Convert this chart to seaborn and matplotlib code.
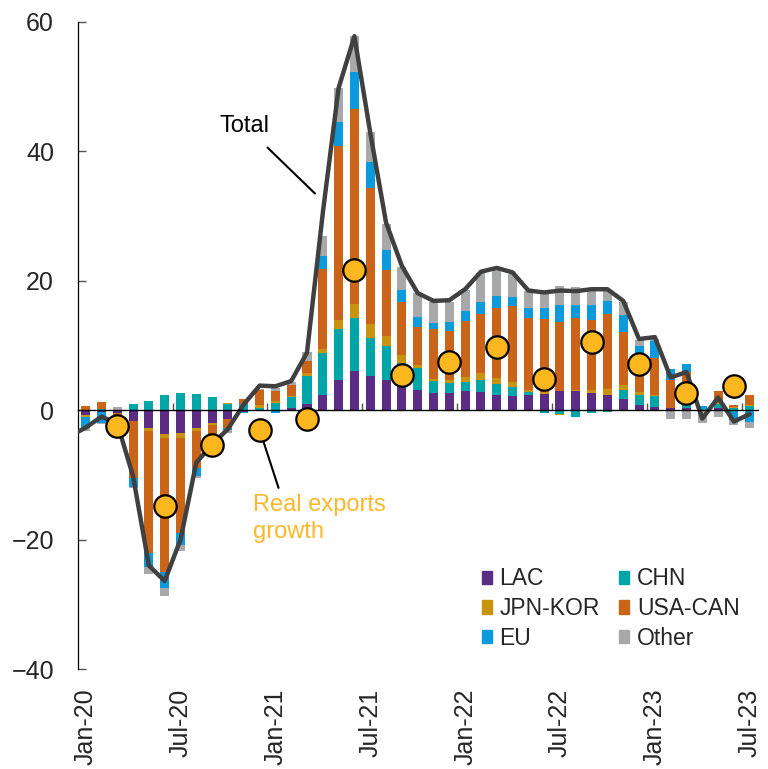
import numpy as np
import pandas as pd
import matplotlib
matplotlib.use("Agg")
import matplotlib.pyplot as plt
from matplotlib.patches import Patch
import seaborn as sns

sns.set_theme(style="white")
plt.rcParams['font.family'] = ['Liberation Sans', 'DejaVu Sans']

months = pd.date_range("2020-01-01", "2023-07-01", freq="MS")
month_labels = [m.strftime("%b-%y") for m in months]

# contributions by destination (pp)
lac = [-0.8, -0.3, -0.5, -1.6, -2.8, -3.7, -3.5, -2.7, -2.0, -1.3, -0.35, 0.0,
       0.0, 0.35, 0.9, 2.4, 4.6, 6.0, 5.3, 4.7, 4.0, 3.2, 2.7, 2.7,
       3.0, 2.8, 2.4, 2.2, 2.4, 2.5, 2.9, 2.9, 2.7, 2.3, 1.7, 0.8,
       0.5, 0.3, 0.4, -0.1, 0.3, 0.1, 0.1]
chn = [0.0, 0.2, 0.0, 0.9, 1.45, 2.3, 2.7, 2.5, 2.0, 0.9, 0.9, 0.4,
       1.1, 1.7, 4.4, 6.4, 7.9, 8.2, 5.8, 5.2, 3.3, 3.35, 1.8, 1.5,
       1.3, 1.9, 1.65, 1.4, 0.35, -0.5, -0.6, -1.1, -0.5, -0.2, 1.45, 1.6,
       1.7, 0.0, 0.7, 0.2, 0.7, 0.2, 0.6]
jpn_kor = [-0.2, 0.0, 0.0, 0.1, -0.4, -0.6, -0.8, -0.5, -0.3, 0.15, 0.0, 0.35,
           0.35, 0.2, 0.4, 0.6, 1.5, 2.2, 2.2, 1.5, 1.3, 0.4, 0.35, 0.4,
           0.9, 1.0, 1.0, 0.7, 0.35, 0.35, -0.15, 0.2, 0.5, 1.0, 0.7, 0.4,
           0.1, 0.0, 0.1, 0.0, 0.1, 0.15, 0.05]
usa_can = [0.6, 1.0, -0.8, -8.8, -18.9, -20.7, -14.6, -5.8, -3.8, -1.4, 0.8, 2.3,
           1.45, 1.6, 1.9, 12.4, 26.8, 30.2, 21.1, 10.3, 8.2, 5.9, 7.7, 7.7,
           8.6, 9.2, 10.8, 11.8, 11.2, 11.3, 10.7, 11.2, 10.8, 11.5, 8.2, 5.6,
           5.8, 4.4, 4.7, 0.0, 1.8, 0.4, 1.55]
eu = [-1.8, -1.6, -0.5, -1.4, -2.2, -2.4, -1.9, -1.1, -0.6, -0.35, -0.15, 0.0,
      -0.4, 0.0, 0.0, 2.1, 3.8, 5.6, 4.0, 3.1, 1.8, 1.5, 1.0, 1.4,
      1.6, 1.8, 1.8, 1.4, 1.45, 1.6, 2.6, 1.9, 2.2, 2.1, 2.6, 1.5,
      2.6, 1.6, 1.3, 0.4, 0.0, -1.55, -1.8]
other = [-0.4, -0.2, 0.5, -0.2, -1.0, -1.3, -0.9, -0.3, -0.3, -0.4, 0.0, 0.2,
         0.5, 0.45, 1.4, 3.1, 5.2, 5.7, 4.6, 4.0, 3.6, 3.8, 3.2, 3.1,
         3.2, 4.5, 4.1, 3.6, 2.7, 2.8, 3.0, 2.9, 2.7, 1.5, 2.0, 1.0,
         0.3, -1.4, -1.3, -1.8, -1.0, -0.8, -1.0]

# total line starts one month earlier (Dec-19), clipped at the axis
total_idx = list(range(-1, 43))
total = [-4.0, -2.7, -1.0, -2.0, -10.2, -24.0, -26.4, -20.0, -8.1, -5.3, -2.9, 0.9, 3.8,
         3.7, 4.5, 8.9, 30.5, 49.8, 57.8, 42.9, 29.0, 22.3, 18.1, 16.9, 17.0,
         18.7, 21.4, 22.0, 21.3, 18.5, 18.2, 18.5, 18.4, 18.7, 18.7, 16.9, 11.0,
         11.3, 5.05, 5.9, -1.3, 1.96, -1.75, -0.6]

# real exports growth, end of each quarter
quarter_idx = [2, 5, 8, 11, 14, 17, 20, 23, 26, 29, 32, 35, 38, 41]
real_exports = [-2.5, -14.8, -5.3, -3.0, -1.4, 21.7, 5.4, 7.5, 9.7, 4.9, 10.6, 7.1, 2.6, 3.7]

series = [("LAC", lac, "#5B2C83"), ("CHN", chn, "#00A5A8"),
          ("JPN-KOR", jpn_kor, "#C8930F"), ("USA-CAN", usa_can, "#CA6418"),
          ("EU", eu, "#0B9ADB"), ("Other", other, "#A7A8AA")]

fig = plt.figure(figsize=(7.68, 7.69), dpi=100)
ax = fig.add_axes([0.1012, 0.1300, 0.8853, 0.8414])

x = np.arange(len(months))
pos_bottom = np.zeros(len(x))
neg_bottom = np.zeros(len(x))
for name, vals, col in series:
    v = np.array(vals)
    p = np.where(v > 0, v, 0)
    n = np.where(v < 0, v, 0)
    ax.bar(x, p, bottom=pos_bottom, width=0.57, color=col, linewidth=0, zorder=2)
    ax.bar(x, n, bottom=neg_bottom, width=0.57, color=col, linewidth=0, zorder=2)
    pos_bottom += p
    neg_bottom += n

sns.lineplot(x=total_idx, y=total, ax=ax, color="#404040", linewidth=3.2, zorder=3)

# annotation pointers
ax.annotate("", xy=(14.5, 33.5), xytext=(11.5, 40.6),
            arrowprops=dict(arrowstyle="-", color="black", lw=1.5, shrinkA=0, shrinkB=0), zorder=3)
ax.annotate("", xy=(12.2, -12.0), xytext=(11.0, -3.0),
            arrowprops=dict(arrowstyle="-", color="black", lw=1.5, shrinkA=0, shrinkB=0), zorder=3)

sns.scatterplot(x=quarter_idx, y=real_exports, ax=ax, s=260, color="#FDB71E",
                edgecolor="black", linewidth=1.6, zorder=4)

ax.text(10.05, 43.85, "Total", fontsize=17, ha="center", va="center", color="black")
ax.text(10.6, -13.0, "Real exports\ngrowth", fontsize=17, ha="left", va="top",
        color="#FBB829", linespacing=1.3)

ax.set_xlim(-0.5, 42.5)
ax.set_ylim(-40, 60)
ax.set_yticks([-40, -20, 0, 20, 40, 60])
ax.set_yticklabels(["\u221240", "\u221220", "0", "20", "40", "60"])
ax.tick_params(axis="y", direction="in", length=6, width=1, color="#555555",
               labelsize=18, pad=17, left=True)

ax.spines["top"].set_visible(False)
ax.spines["right"].set_visible(False)
ax.spines["left"].set_color("black")
ax.spines["left"].set_linewidth(0.9)
ax.spines["bottom"].set_position(("data", 0))
ax.spines["bottom"].set_color("black")
ax.spines["bottom"].set_linewidth(1.0)
ax.spines["bottom"].set_zorder(3)
ax.set_xticks(np.arange(5.5, 42, 6))
ax.set_xticklabels([])
ax.tick_params(axis="x", direction="in", length=5, width=1, color="#555555", bottom=True)

sec = ax.secondary_xaxis(0.0)
sec.set_xticks(x[::6])
sec.set_xticklabels(month_labels[::6])
sec.tick_params(axis="x", length=0, pad=14, labelsize=18, labelrotation=90)
sec.spines["bottom"].set_visible(False)

handles = [Patch(color=c) for _, _, c in series]
names = [s[0] for s in series]
order = [0, 2, 4, 1, 3, 5]
ax.legend([handles[i] for i in order], [names[i] for i in order], ncol=2,
          loc="lower right", bbox_to_anchor=(740 / 768, 119 / 769),
          bbox_transform=fig.transFigure, frameon=False, fontsize=16.5,
          handlelength=0.43, handleheight=0.5, handletextpad=0.35,
          columnspacing=0.85, labelspacing=0.3, borderpad=0, borderaxespad=0)

fig.savefig("out.png", dpi=100)
